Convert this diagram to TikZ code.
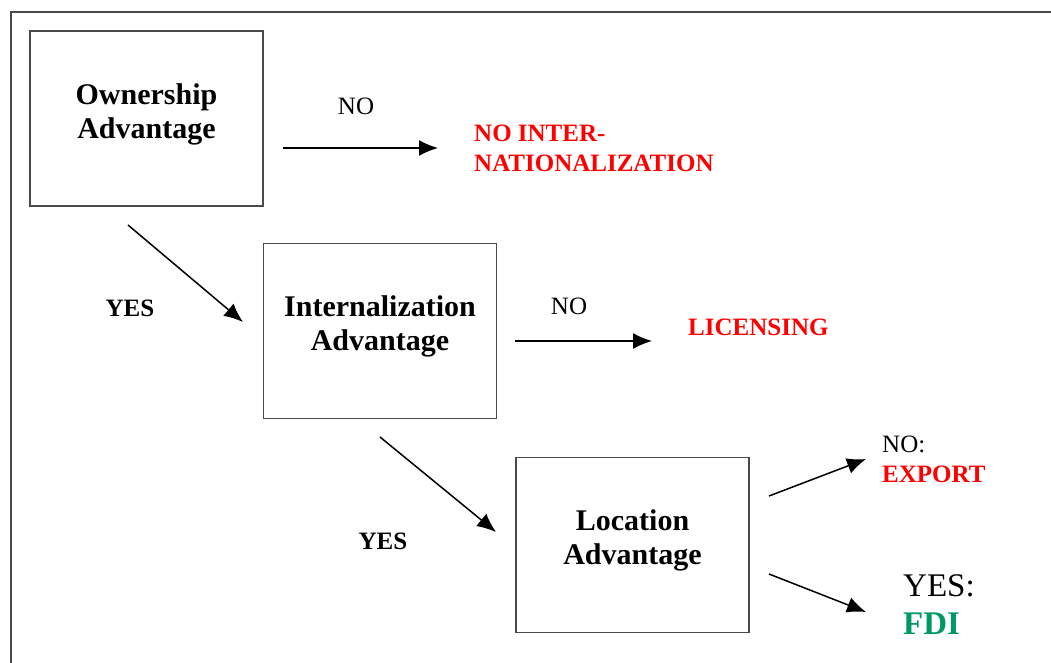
\documentclass[tikz,border=0pt]{standalone}
\usepackage{fontspec}
\setmainfont{Liberation Serif}
\usetikzlibrary{arrows.meta,positioning,calc}
\usepackage{xcolor}
\definecolor{fred}{HTML}{FF0000}
\definecolor{fgreen}{HTML}{009966}
\definecolor{fgray}{HTML}{4A4A4A}
\tikzset{
  advbox/.style  = {draw=fgray, line width=1.8pt, minimum width=233pt,
                    minimum height=175pt, align=center, inner sep=0pt,
                    text depth=15pt, font=\fontsize{30}{34}\selectfont\bfseries},
  choice/.style  = {inner sep=0pt, font=\fontsize{25}{30}\selectfont},
  outcome/.style = {inner sep=0pt, align=left, text=fred,
                    font=\fontsize{25}{30}\selectfont\bfseries},
  sig/.style     = {-{Latex[length=19pt,width=16pt]}, line width=1.5pt},
}

\begin{document}
\begin{tikzpicture}[x=1pt,y=-1pt]
\useasboundingbox (0,0) rectangle (1051,663);
% ---- frame ----
\draw[fgray, line width=1.8pt] (1051,12) -- (11,12) -- (11,663);
% ---- decision boxes ----
\node[advbox] (own) at (146.5,118.5) {Ownership\\Advantage};
\node[advbox] (int) at (380,331) {Internalization\\Advantage};
\node[advbox] (loc) at (632.5,545) {Location\\Advantage};
% ---- outcomes ----
\node[outcome, anchor=west] (noint) at (474,148) {NO INTER-\\NATIONALIZATION};
\node[outcome, anchor=west] (lic) at (688,327) {LICENSING};
\node[choice, anchor=west, align=left] (exp) at (882,459)
  {NO:\\\textcolor{fred}{\bfseries EXPORT}};
\node[choice, anchor=west, align=left, font=\fontsize{33}{38}\selectfont] (fdi) at (903,605)
  {YES:\\\textcolor{fgreen}{\bfseries FDI}};
% ---- branch labels ----
\node[choice] (no1) at (356,106) {NO};
\node[choice] (no2) at (569,306) {NO};
\node[choice, font=\fontsize{25}{30}\selectfont\bfseries] (yes1) at (130,308) {YES};
\node[choice, font=\fontsize{25}{30}\selectfont\bfseries] (yes2) at (383,541) {YES};
% ---- arrow ends ----
\coordinate (a1s) at (283,148); \coordinate (a1e) at (438,148);
\coordinate (a2s) at (128,225); \coordinate (a2e) at (243,322);
\coordinate (a3s) at (515,341); \coordinate (a3e) at (652,341);
\coordinate (a4s) at (380,437); \coordinate (a4e) at (496,532);
\coordinate (a5s) at (769,496); \coordinate (a5e) at (866,459);
\coordinate (a6s) at (769,574); \coordinate (a6e) at (866,612);
\foreach \n in {1,...,6}{
  \draw[sig] (a\n s) -- (a\n e);}
\end{tikzpicture}
\end{document}
